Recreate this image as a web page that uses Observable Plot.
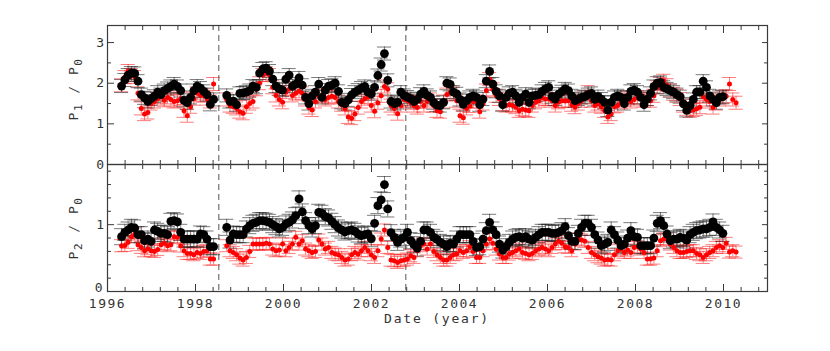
<!DOCTYPE html>
<html>
<head>
<meta charset="utf-8">
<script src="https://cdn.jsdelivr.net/npm/d3@7"></script>
<script src="https://cdn.jsdelivr.net/npm/@observablehq/plot@0.6"></script>
<style>
  html, body { margin: 0; padding: 0; background: #ffffff; }
  #wrap { position: relative; width: 830px; height: 351px; overflow: hidden; background: #fff; }
  #wrap svg { position: absolute; left: 0; }
</style>
</head>
<body>
<div id="wrap"></div>
<script>
// ---- data: one value per Carrington rotation (about 27.3 days) ----
const rotationStartYear = 1996.32;   // year of first rotation plotted
const rotationLength = 0.07468;      // years per rotation

// P1/P0, filled black circles
const p1Black = [1.93,2.08,2.2,2.25,2.24,2.05,1.72,1.64,1.55,1.62,
 1.68,1.78,1.72,1.82,1.87,1.92,1.98,1.92,1.82,1.58,
 1.52,1.65,1.82,1.93,1.88,1.8,1.72,1.48,1.6,null,
 null,null,1.7,1.55,1.56,1.47,1.75,1.76,1.78,1.82,
 1.93,1.9,2.25,2.35,2.37,2.3,2.1,1.93,1.86,1.83,
 2.1,2.2,1.93,1.98,2.13,1.95,1.65,1.5,1.69,1.78,
 1.98,1.65,1.83,1.93,1.95,2.0,1.8,1.53,1.5,1.59,
 1.71,1.78,1.83,1.88,1.92,1.78,1.74,1.9,2.19,2.46,
 2.73,2.07,1.55,1.5,1.53,1.78,1.7,1.66,1.62,1.55,
 1.6,1.73,1.8,1.7,1.65,1.52,1.46,1.45,1.53,2.0,
 1.97,1.78,1.74,1.6,1.48,1.57,1.65,1.69,1.65,1.47,
 1.61,2.05,2.29,1.98,1.8,1.69,1.47,1.65,1.75,1.78,
 1.69,1.53,1.65,1.73,1.53,1.69,1.7,1.72,1.8,1.86,
 1.9,1.67,1.61,1.73,1.79,1.86,1.82,1.69,1.57,1.61,
 1.65,1.67,1.72,1.75,1.6,1.67,1.61,1.53,1.34,1.53,
 1.65,1.69,1.65,1.5,1.65,1.8,1.83,1.78,1.65,1.47,
 1.61,1.75,1.92,2.0,2.02,1.9,1.86,1.82,1.78,1.72,
 1.67,1.49,1.33,1.45,1.6,1.78,1.78,2.05,1.9,1.69,
 1.6,1.52,1.65,1.67];

// P1/P0, small red points
const p1Red = [1.95,2.15,2.3,2.2,2.15,1.75,1.38,1.24,1.28,1.5,
 1.55,1.62,1.67,1.58,1.65,1.6,1.55,1.57,1.62,1.32,
 1.2,1.42,1.62,1.75,1.7,1.7,1.62,1.55,1.98,null,
 null,null,1.6,1.45,1.42,1.38,1.3,1.26,1.42,1.5,
 1.55,1.85,2.0,2.2,2.25,2.2,1.9,1.7,1.6,1.53,
 1.78,1.85,1.7,1.75,1.8,1.75,1.6,1.4,1.34,1.55,
 1.68,1.7,1.6,1.65,1.68,1.65,1.55,1.47,1.38,1.17,
 1.14,1.24,1.4,1.55,1.62,1.66,1.45,1.31,1.52,1.69,
 1.92,1.85,1.45,1.38,1.25,1.45,1.6,1.57,1.52,1.45,
 1.4,1.55,1.45,1.55,1.6,1.45,1.32,1.3,1.55,1.72,
 1.78,1.74,1.57,1.2,1.15,1.38,1.44,1.55,1.55,1.3,
 1.5,1.82,2.1,1.85,1.69,1.61,1.49,1.45,1.47,1.45,
 1.41,1.32,1.36,1.34,1.32,1.45,1.53,1.57,1.65,1.61,
 1.61,1.57,1.45,1.53,1.57,1.56,1.57,1.47,1.41,1.5,
 1.57,1.65,1.78,1.57,1.45,1.5,1.42,1.32,1.17,1.24,
 1.43,1.45,1.53,1.6,1.65,1.55,1.6,1.65,1.65,1.57,
 1.61,1.57,1.69,1.9,1.98,2.06,1.95,1.82,1.74,1.69,
 1.61,1.45,1.37,1.32,1.34,1.37,1.41,1.67,1.6,1.55,
 1.4,1.5,1.6,1.65,1.68,1.98,1.6,1.52];

// P2/P0, filled black circles
const p2Black = [0.82,0.885,0.92,0.96,0.95,0.85,0.85,0.76,0.785,0.75,
 0.92,0.9,0.87,0.87,0.85,1.05,1.06,1.04,0.885,0.785,
 0.785,0.785,0.785,0.785,0.86,0.85,0.785,0.67,0.67,null,
 null,null,0.96,0.77,0.86,0.85,0.85,0.85,0.935,0.985,
 1.02,1.035,1.06,1.06,1.05,1.035,1.0,0.97,0.935,0.96,
 1.01,1.035,1.07,1.135,1.385,1.19,1.06,0.985,0.935,0.985,
 1.185,1.17,1.12,1.1,1.05,1.0,0.95,0.92,0.89,0.91,
 0.92,0.9,0.86,0.835,0.85,0.86,0.79,1.02,1.285,1.37,
 1.6,1.235,0.88,0.81,0.735,0.785,0.81,0.885,0.76,0.7,
 0.65,0.75,0.92,0.92,0.885,0.81,0.78,0.735,0.71,0.67,
 0.72,0.71,0.785,0.85,0.85,0.85,0.85,0.75,0.66,0.67,
 0.785,0.91,1.035,0.92,0.85,0.71,0.62,0.67,0.735,0.785,
 0.81,0.82,0.8,0.82,0.785,0.77,0.81,0.85,0.885,0.885,
 0.885,0.87,0.87,0.885,0.91,0.97,0.835,0.75,0.75,0.87,
 0.96,1.02,1.02,0.96,0.85,0.77,0.685,0.71,0.735,0.92,
 0.85,0.77,0.685,0.71,0.8,0.91,0.82,0.81,0.685,0.685,
 0.685,0.685,0.8,1.02,1.06,0.985,0.86,0.76,0.785,0.785,
 0.81,0.8,0.77,0.85,0.885,0.91,0.92,0.935,0.935,0.96,
 1.04,0.96,0.92,0.87];

// P2/P0, small red points
const p2Red = [0.685,0.69,0.735,0.82,0.86,0.7,0.66,0.61,0.64,0.61,
 0.6,0.63,0.7,0.72,0.685,0.7,0.82,0.81,0.68,0.61,
 0.57,0.57,0.55,0.585,0.57,0.6,0.61,0.485,0.485,null,
 null,null,0.685,0.61,0.585,0.55,0.5,0.47,0.51,0.6,
 0.71,0.71,0.71,0.71,0.72,0.71,0.635,0.61,0.62,0.71,
 0.61,0.66,0.71,0.81,0.71,0.76,0.635,0.61,0.585,0.6,
 0.77,0.71,0.635,0.66,0.585,0.56,0.55,0.51,0.47,0.485,
 0.55,0.585,0.56,0.61,0.66,0.61,0.55,0.51,0.61,0.785,
 0.92,0.66,0.47,0.46,0.435,0.46,0.47,0.485,0.535,0.51,
 0.61,0.685,0.71,0.635,0.71,0.6,0.55,0.51,0.47,0.47,
 0.51,0.55,0.56,0.61,0.585,0.61,0.67,0.6,0.51,0.51,
 0.61,0.71,0.785,0.72,0.635,0.56,0.51,0.51,0.56,0.585,
 0.61,0.635,0.585,0.57,0.55,0.57,0.61,0.635,0.66,0.635,
 0.61,0.66,0.71,0.75,0.72,0.67,0.66,0.61,0.71,0.785,
 0.77,0.75,0.66,0.585,0.55,0.52,0.5,0.47,0.48,0.47,
 0.55,0.61,0.635,0.585,0.62,0.585,0.66,0.67,0.635,0.585,
 0.485,0.485,0.5,0.61,0.76,0.785,0.785,0.71,0.66,0.61,
 0.585,0.585,0.6,0.61,0.61,0.57,0.55,0.51,0.55,0.585,
 0.61,0.66,0.685,0.66,0.72,0.59,0.61,0.59];

// error bar half-heights
const errP1Black = 0.16, errP1Red = 0.16;
const errP2Black = 0.12, errP2Red = 0.09;

// dashed reference dates
const markerYears = [1998.53, 2002.78];

// axis ticks / labels
const xMajor = [1996, 1998, 2000, 2002, 2004, 2006, 2008, 2010];
const xMinor = [1996.4,1996.8,1997.2,1997.6,1998.4,1998.8,1999.2,1999.6,2000.4,2000.8,2001.2,2001.6,
  2002.4,2002.8,2003.2,2003.6,2004.4,2004.8,2005.2,2005.6,2006.4,2006.8,2007.2,2007.6,
  2008.4,2008.8,2009.2,2009.6,2010.4,2010.8];
const p1Major = [0, 1, 2, 3];
const p1Minor = [0.5, 1.5, 2.5];
const p2Major = [0, 1];
const p2Minor = [0.2, 0.4, 0.6, 0.8, 1.2, 1.4, 1.6, 1.8];

const xLabel = "Date (year)";
// ----------------------------------------------------------------

const FONT = "'DejaVu Sans Mono', 'Liberation Mono', monospace";
const AX = "#3a3a3a";
const TXT = "#333";
const capHalf = 0.16; // years

function rows(arr) {
  return arr.map((v, i) => ({year: rotationStartYear + i * rotationLength, value: v}))
            .filter(d => d.value != null);
}

function panel({black, red, errB, errR, yDomain, yMajor, yMinor, yLabels, height, marginTop, marginBottom, xLabels}) {
  const B = rows(black), R = rows(red);
  const bars = (D, e, color, op) => [
    Plot.ruleX(D, {x: "year", y1: d => d.value - e, y2: d => d.value + e, stroke: color, strokeOpacity: op, strokeWidth: 1}),
    Plot.ruleY(D, {y: d => d.value + e, x1: d => d.year - capHalf, x2: d => d.year + capHalf, stroke: color, strokeOpacity: op, strokeWidth: 1}),
    Plot.ruleY(D, {y: d => d.value - e, x1: d => d.year - capHalf, x2: d => d.year + capHalf, stroke: color, strokeOpacity: op, strokeWidth: 1})
  ];
  const tk = {fill: "none", stroke: AX, strokeWidth: 1, label: null};
  return Plot.plot({
    width: 830,
    height,
    marginTop,
    marginBottom,
    marginLeft: 107,
    marginRight: 63,
    x: {domain: [1996, 2011]},
    y: {domain: yDomain},
    style: {background: "transparent", fontFamily: FONT, fontSize: "13px", letterSpacing: "1.5px", overflow: "visible"},
    marks: [
      Plot.ruleX(markerYears, {stroke: "#555", strokeWidth: 1, strokeDasharray: "6,4"}),
      ...bars(R, errR, "#ff1010", 0.55),
      ...bars(B, errB, "#222", 0.6),
      Plot.dot(R, {x: "year", y: "value", r: 2.5, fill: "#ff0000"}),
      Plot.dot(B, {x: "year", y: "value", r: 4.4, fill: "#000"}),
      // inward ticks on all four sides
      Plot.axisX(xMajor, {...tk, anchor: "bottom", tickSize: 7, dy: -7}),
      Plot.axisX(xMinor, {...tk, anchor: "bottom", tickSize: 4, dy: -4}),
      Plot.axisX(xMajor, {...tk, anchor: "top", tickSize: 7, dy: 7}),
      Plot.axisX(xMinor, {...tk, anchor: "top", tickSize: 4, dy: 4}),
      Plot.axisY(yMajor, {...tk, anchor: "left", tickSize: 7, dx: 7}),
      Plot.axisY(yMinor, {...tk, anchor: "left", tickSize: 4, dx: 4}),
      Plot.axisY(yMajor, {...tk, anchor: "right", tickSize: 6, dx: -6}),
      Plot.axisY(yMinor, {...tk, anchor: "right", tickSize: 4, dx: -4}),
      // tick labels
      Plot.axisY(yLabels, {anchor: "left", tickSize: 0, tickPadding: 2, stroke: "none", fill: TXT, label: null, tickFormat: d => String(d)}),
      xLabels ? Plot.axisX(xMajor, {anchor: "bottom", tickSize: 0, tickPadding: 7, stroke: "none", fill: TXT, label: null, tickFormat: d => String(d)}) : null,
      Plot.frame({stroke: AX, strokeWidth: 1.2})
    ]
  });
}

function yTitle(svg, cx, cy, sub) {
  const t = d3.select(svg).append("text")
    .attr("transform", `translate(${cx},${cy}) rotate(-90)`)
    .attr("text-anchor", "middle")
    .attr("fill", TXT)
    .style("font-family", FONT)
    .style("font-size", "13px")
    .style("letter-spacing", "1.5px");
  t.append("tspan").text("P");
  t.append("tspan").attr("dy", "4").style("font-size", "11px").text(sub);
  t.append("tspan").attr("dy", "-4").text(" / P");
  t.append("tspan").attr("dy", "4").style("font-size", "11px").text("0");
}

const wrap = document.getElementById("wrap");

const topSvg = panel({
  black: p1Black, red: p1Red, errB: errP1Black, errR: errP1Red,
  yDomain: [0, 3.42], yMajor: p1Major, yMinor: p1Minor, yLabels: p1Major,
  height: 170, marginTop: 25, marginBottom: 6, xLabels: false
});
topSvg.style.top = "0px";
wrap.appendChild(topSvg);
yTitle(topSvg, 78, 89, "1");

const botSvg = panel({
  black: p2Black, red: p2Red, errB: errP2Black, errR: errP2Red,
  yDomain: [0, 1.9], yMajor: p2Major, yMinor: p2Minor, yLabels: [1],
  height: 193, marginTop: 6, marginBottom: 60, xLabels: true
});
botSvg.style.top = "158px";
wrap.appendChild(botSvg);
yTitle(botSvg, 78, 70, "2");
// "0" at bottom of lower panel
d3.select(botSvg).append("text").attr("x", 104).attr("y", 129.5).attr("dy", "0.32em")
  .attr("text-anchor", "end").attr("fill", TXT)
  .style("font-family", FONT).style("font-size", "13px").text("0");

d3.select(botSvg).append("text")
  .attr("x", 437).attr("y", 164.5)
  .attr("text-anchor", "middle")
  .attr("fill", TXT)
  .style("font-family", FONT).style("font-size", "13px").style("letter-spacing", "1.8px")
  .text(xLabel);
</script>
</body>
</html>
